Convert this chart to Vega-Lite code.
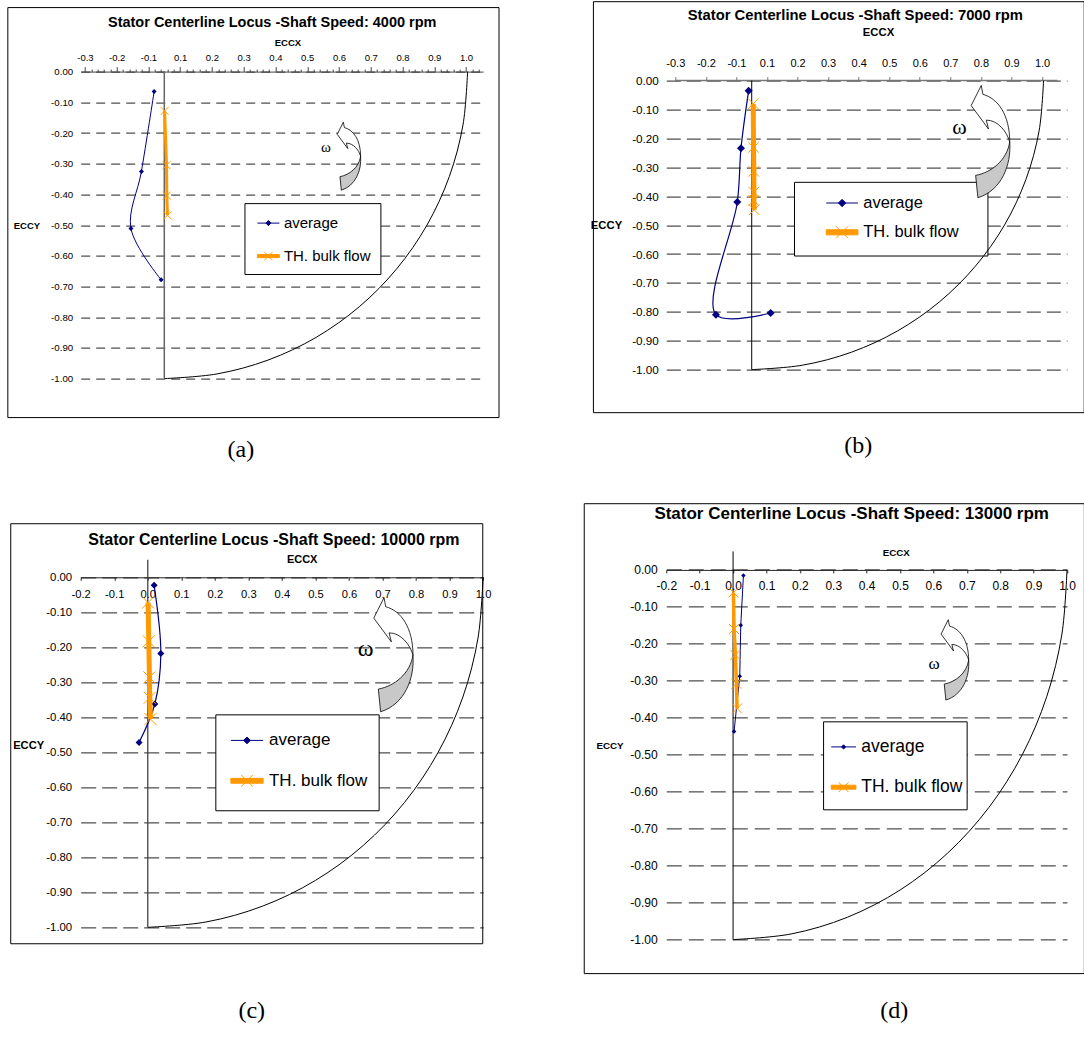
{
  "$schema": "https://vega.github.io/schema/vega-lite/v6.json",
  "background": "white",
  "padding": {"left": 6.7, "top": 0.6, "right": 0, "bottom": 0},
  "columns": 2,
  "spacing": {"row": 172.8, "column": 182.6},
  "bounds": "flush",
  "align": "each",
  "resolve": {"scale": {"x": "independent", "y": "independent", "shape": "independent", "fill": "independent", "stroke": "independent"}},
  "config": {
    "view": {"stroke": null},
    "font": "Liberation Sans",
    "locale": {"number": {"decimal": ".", "thousands": ",", "grouping": [3], "currency": ["$", ""], "minus": "-"}},
    "axis": {"labelColor": "black", "titleColor": "black", "labelFont": "Liberation Sans", "titleFont": "Liberation Sans", "labelOverlap": false, "labelFlush": false, "labelBound": false},
    "legend": {"labelColor": "black", "labelFont": "Liberation Sans"}
  },
  "datasets": {
    "a": [
      {"s": "avg", "i": 1, "x": -0.032, "y": -0.065},
      {"s": "avg", "i": 2, "x": -0.072, "y": -0.325},
      {"s": "avg", "i": 3, "x": -0.105, "y": -0.511},
      {"s": "avg", "i": 4, "x": -0.010, "y": -0.678},
      {"s": "th", "i": 1, "x": 0.001, "y": -0.128},
      {"s": "th", "i": 2, "x": 0.007, "y": -0.305},
      {"s": "th", "i": 3, "x": 0.008, "y": -0.404},
      {"s": "th", "i": 4, "x": 0.010, "y": -0.468},
      {"s": "arc", "i": 1, "x": 0.955, "y": 0},
      {"s": "arc", "i": 2, "x": 0.9405, "y": -0.1736},
      {"s": "arc", "i": 3, "x": 0.8974, "y": -0.342},
      {"s": "arc", "i": 4, "x": 0.8271, "y": -0.5},
      {"s": "arc", "i": 5, "x": 0.7315, "y": -0.6428},
      {"s": "arc", "i": 6, "x": 0.6139, "y": -0.766},
      {"s": "arc", "i": 7, "x": 0.4775, "y": -0.866},
      {"s": "arc", "i": 8, "x": 0.3266, "y": -0.9397},
      {"s": "arc", "i": 9, "x": 0.1658, "y": -0.9848},
      {"s": "arc", "i": 10, "x": 0, "y": -1}
    ],
    "b": [
      {"s": "avg", "i": 1, "x": -0.010, "y": -0.035},
      {"s": "avg", "i": 2, "x": -0.035, "y": -0.234},
      {"s": "avg", "i": 3, "x": -0.047, "y": -0.420},
      {"s": "avg", "i": 4, "x": -0.117, "y": -0.810},
      {"s": "avg", "i": 5, "x": 0.062, "y": -0.804},
      {"s": "th", "i": 1, "x": 0.005, "y": -0.080},
      {"s": "th", "i": 2, "x": 0.006, "y": -0.231},
      {"s": "th", "i": 3, "x": 0.007, "y": -0.314},
      {"s": "th", "i": 4, "x": 0.007, "y": -0.386},
      {"s": "th", "i": 5, "x": 0.007, "y": -0.415},
      {"s": "th", "i": 6, "x": 0.008, "y": -0.447},
      {"s": "arc", "i": 1, "x": 0.955, "y": 0},
      {"s": "arc", "i": 2, "x": 0.9405, "y": -0.1736},
      {"s": "arc", "i": 3, "x": 0.8974, "y": -0.342},
      {"s": "arc", "i": 4, "x": 0.8271, "y": -0.5},
      {"s": "arc", "i": 5, "x": 0.7315, "y": -0.6428},
      {"s": "arc", "i": 6, "x": 0.6139, "y": -0.766},
      {"s": "arc", "i": 7, "x": 0.4775, "y": -0.866},
      {"s": "arc", "i": 8, "x": 0.3266, "y": -0.9397},
      {"s": "arc", "i": 9, "x": 0.1658, "y": -0.9848},
      {"s": "arc", "i": 10, "x": 0, "y": -1}
    ],
    "c": [
      {"s": "avg", "i": 1, "x": 0.019, "y": -0.023},
      {"s": "avg", "i": 2, "x": 0.039, "y": -0.218},
      {"s": "avg", "i": 3, "x": 0.021, "y": -0.362},
      {"s": "avg", "i": 4, "x": -0.026, "y": -0.472},
      {"s": "th", "i": 1, "x": 0.001, "y": -0.072},
      {"s": "th", "i": 2, "x": 0.003, "y": -0.183},
      {"s": "th", "i": 3, "x": 0.005, "y": -0.286},
      {"s": "th", "i": 4, "x": 0.006, "y": -0.344},
      {"s": "th", "i": 5, "x": 0.008, "y": -0.405},
      {"s": "arc", "i": 1, "x": 1, "y": 0},
      {"s": "arc", "i": 2, "x": 0.9848, "y": -0.1736},
      {"s": "arc", "i": 3, "x": 0.9397, "y": -0.342},
      {"s": "arc", "i": 4, "x": 0.866, "y": -0.5},
      {"s": "arc", "i": 5, "x": 0.766, "y": -0.6428},
      {"s": "arc", "i": 6, "x": 0.6428, "y": -0.766},
      {"s": "arc", "i": 7, "x": 0.5, "y": -0.866},
      {"s": "arc", "i": 8, "x": 0.342, "y": -0.9397},
      {"s": "arc", "i": 9, "x": 0.1736, "y": -0.9848},
      {"s": "arc", "i": 10, "x": 0, "y": -1}
    ],
    "d": [
      {"s": "avg", "i": 1, "x": 0.031, "y": -0.015},
      {"s": "avg", "i": 2, "x": 0.023, "y": -0.150},
      {"s": "avg", "i": 3, "x": 0.020, "y": -0.288},
      {"s": "avg", "i": 4, "x": 0.003, "y": -0.437},
      {"s": "th", "i": 1, "x": 0.001, "y": -0.061},
      {"s": "th", "i": 2, "x": 0.003, "y": -0.160},
      {"s": "th", "i": 3, "x": 0.007, "y": -0.230},
      {"s": "th", "i": 4, "x": 0.010, "y": -0.308},
      {"s": "th", "i": 5, "x": 0.012, "y": -0.375},
      {"s": "arc", "i": 1, "x": 1, "y": 0},
      {"s": "arc", "i": 2, "x": 0.9848, "y": -0.1736},
      {"s": "arc", "i": 3, "x": 0.9397, "y": -0.342},
      {"s": "arc", "i": 4, "x": 0.866, "y": -0.5},
      {"s": "arc", "i": 5, "x": 0.766, "y": -0.6428},
      {"s": "arc", "i": 6, "x": 0.6428, "y": -0.766},
      {"s": "arc", "i": 7, "x": 0.5, "y": -0.866},
      {"s": "arc", "i": 8, "x": 0.342, "y": -0.9397},
      {"s": "arc", "i": 9, "x": 0.1736, "y": -0.9848},
      {"s": "arc", "i": 10, "x": 0, "y": -1}
    ]
  },
  "concat": [
    {
      "width": 402.4, "height": 307,
      "data": {"name": "a"},
      "title": {"text": "Stator Centerline Locus -Shaft Speed: 4000 rpm", "frame": "group", "anchor": "middle", "dx": -9.7, "offset": -34, "baseline": "alphabetic", "fontSize": 14.5, "font": "Liberation Sans", "fontWeight": "bold", "color": "black"},
      "encoding": {
        "x": {"field": "x", "type": "quantitative", "scale": {"domain": [-0.2632, 1.0038], "nice": false, "zero": false},
          "axis": {"orient": "top", "values": [-0.25,-0.23,-0.21,-0.19,-0.17,-0.15,-0.13,-0.11,-0.09,-0.07,-0.05,-0.03,-0.01,0.01,0.03,0.05,0.07,0.09,0.11,0.13,0.15,0.17,0.19,0.21,0.23,0.25,0.27,0.29,0.31,0.33,0.35,0.37,0.39,0.41,0.43,0.45,0.47,0.49,0.51,0.53,0.55,0.57,0.59,0.61,0.63,0.65,0.67,0.69,0.71,0.73,0.75,0.77,0.79,0.81,0.83,0.85,0.87,0.89,0.91,0.93,0.95,0.97,0.99], "labelExpr": "abs(round((datum.value+0.25)*10)-(datum.value+0.25)*10)<0.01 ? format(datum.value<0?datum.value-0.05:datum.value+0.05,'.1f') : ''", "labelFontSize": 9.5, "labelPadding": 4, "tickSize": {"condition": {"test": "abs(round((datum.value+0.25)*10)-(datum.value+0.25)*10)<0.01", "value": 5}, "value": 2.5}, "tickColor": "#444", "domainColor": "#444", "grid": false, "title": "ECCX", "titleFontSize": 9.5, "titleFontWeight": "bold", "titlePadding": 5, "titleX": 206.7}},
        "y": {"field": "y", "type": "quantitative", "scale": {"domain": [-1, 0], "nice": false, "zero": false},
          "axis": {"orient": "left", "values": [0,-0.1,-0.2,-0.3,-0.4,-0.5,-0.6,-0.7,-0.8,-0.9,-1], "format": ".2f", "ticks": false, "domain": false, "grid": true, "gridDash": [9, 6], "gridColor": "#222", "gridWidth": 1, "labelFontSize": 9.7, "labelPadding": 8, "title": "ECCY", "titleAngle": 0, "titleAlign": "right", "titleBaseline": "middle", "titleFontSize": 9.5, "titleFontWeight": "bold", "titlePadding": 11}}
      },
      "layer": [
        {"transform": [{"filter": "datum.s == 'arc' && datum.i == 10"}], "mark": {"type": "rect", "filled": false, "stroke": "black", "strokeWidth": 1},
          "encoding": {"x": {"datum": -0.4926, "type": "quantitative", "scale": {"domain": [-0.2632, 1.0038], "nice": false, "zero": false},
              "axis": {"orient": "top", "values": [-0.25,-0.23,-0.21,-0.19,-0.17,-0.15,-0.13,-0.11,-0.09,-0.07,-0.05,-0.03,-0.01,0.01,0.03,0.05,0.07,0.09,0.11,0.13,0.15,0.17,0.19,0.21,0.23,0.25,0.27,0.29,0.31,0.33,0.35,0.37,0.39,0.41,0.43,0.45,0.47,0.49,0.51,0.53,0.55,0.57,0.59,0.61,0.63,0.65,0.67,0.69,0.71,0.73,0.75,0.77,0.79,0.81,0.83,0.85,0.87,0.89,0.91,0.93,0.95,0.97,0.99], "labelExpr": "abs(round((datum.value+0.25)*10)-(datum.value+0.25)*10)<0.01 ? format(datum.value<0?datum.value-0.05:datum.value+0.05,'.1f') : ''", "labelFontSize": 9.5, "labelPadding": 4, "tickSize": {"condition": {"test": "abs(round((datum.value+0.25)*10)-(datum.value+0.25)*10)<0.01", "value": 5}, "value": 2.5}, "tickColor": "#444", "domainColor": "#444", "grid": false, "title": "ECCX", "titleFontSize": 9.5, "titleFontWeight": "bold", "titlePadding": 5, "titleX": 206.7}},
            "x2": {"datum": 1.0539},
            "y": {"datum": 0.2085, "type": "quantitative", "scale": {"domain": [-1, 0], "nice": false, "zero": false},
              "axis": {"orient": "left", "values": [0,-0.1,-0.2,-0.3,-0.4,-0.5,-0.6,-0.7,-0.8,-0.9,-1], "format": ".2f", "ticks": false, "domain": false, "grid": true, "gridDash": [9, 6], "gridColor": "#222", "gridWidth": 1, "labelFontSize": 9.7, "labelPadding": 8, "title": "ECCY", "titleAngle": 0, "titleAlign": "right", "titleBaseline": "middle", "titleFontSize": 9.5, "titleFontWeight": "bold", "titlePadding": 11}},
            "y2": {"datum": -1.127}}},
        {"transform": [{"filter": "datum.s == 'arc' && datum.i == 10"}], "mark": {"type": "rect", "fill": "white", "stroke": "black", "strokeWidth": 1},
          "encoding": {"x": {"datum": 0.254, "type": "quantitative", "scale": {"domain": [-0.2632, 1.0038], "nice": false, "zero": false},
              "axis": {"orient": "top", "values": [-0.25,-0.23,-0.21,-0.19,-0.17,-0.15,-0.13,-0.11,-0.09,-0.07,-0.05,-0.03,-0.01,0.01,0.03,0.05,0.07,0.09,0.11,0.13,0.15,0.17,0.19,0.21,0.23,0.25,0.27,0.29,0.31,0.33,0.35,0.37,0.39,0.41,0.43,0.45,0.47,0.49,0.51,0.53,0.55,0.57,0.59,0.61,0.63,0.65,0.67,0.69,0.71,0.73,0.75,0.77,0.79,0.81,0.83,0.85,0.87,0.89,0.91,0.93,0.95,0.97,0.99], "labelExpr": "abs(round((datum.value+0.25)*10)-(datum.value+0.25)*10)<0.01 ? format(datum.value<0?datum.value-0.05:datum.value+0.05,'.1f') : ''", "labelFontSize": 9.5, "labelPadding": 4, "tickSize": {"condition": {"test": "abs(round((datum.value+0.25)*10)-(datum.value+0.25)*10)<0.01", "value": 5}, "value": 2.5}, "tickColor": "#444", "domainColor": "#444", "grid": false, "title": "ECCX", "titleFontSize": 9.5, "titleFontWeight": "bold", "titlePadding": 5, "titleX": 206.7}},
            "x2": {"datum": 0.682},
            "y": {"datum": -0.430, "type": "quantitative", "scale": {"domain": [-1, 0], "nice": false, "zero": false},
              "axis": {"orient": "left", "values": [0,-0.1,-0.2,-0.3,-0.4,-0.5,-0.6,-0.7,-0.8,-0.9,-1], "format": ".2f", "ticks": false, "domain": false, "grid": true, "gridDash": [9, 6], "gridColor": "#222", "gridWidth": 1, "labelFontSize": 9.7, "labelPadding": 8, "title": "ECCY", "titleAngle": 0, "titleAlign": "right", "titleBaseline": "middle", "titleFontSize": 9.5, "titleFontWeight": "bold", "titlePadding": 11}},
            "y2": {"datum": -0.661}}},
        {"transform": [{"filter": "datum.s == 'arc'"}], "mark": {"type": "line", "color": "black", "strokeWidth": 1, "interpolate": "catmull-rom"}, "encoding": {"order": {"field": "i", "type": "quantitative"}}},
        {"transform": [{"filter": "datum.s == 'arc' && datum.i == 10"}], "mark": {"type": "rule", "color": "#666", "strokeWidth": 1.5},
          "encoding": {"x": {"datum": 0, "type": "quantitative", "scale": {"domain": [-0.2632, 1.0038], "nice": false, "zero": false},
              "axis": {"orient": "top", "values": [-0.25,-0.23,-0.21,-0.19,-0.17,-0.15,-0.13,-0.11,-0.09,-0.07,-0.05,-0.03,-0.01,0.01,0.03,0.05,0.07,0.09,0.11,0.13,0.15,0.17,0.19,0.21,0.23,0.25,0.27,0.29,0.31,0.33,0.35,0.37,0.39,0.41,0.43,0.45,0.47,0.49,0.51,0.53,0.55,0.57,0.59,0.61,0.63,0.65,0.67,0.69,0.71,0.73,0.75,0.77,0.79,0.81,0.83,0.85,0.87,0.89,0.91,0.93,0.95,0.97,0.99], "labelExpr": "abs(round((datum.value+0.25)*10)-(datum.value+0.25)*10)<0.01 ? format(datum.value<0?datum.value-0.05:datum.value+0.05,'.1f') : ''", "labelFontSize": 9.5, "labelPadding": 4, "tickSize": {"condition": {"test": "abs(round((datum.value+0.25)*10)-(datum.value+0.25)*10)<0.01", "value": 5}, "value": 2.5}, "tickColor": "#444", "domainColor": "#444", "grid": false, "title": "ECCX", "titleFontSize": 9.5, "titleFontWeight": "bold", "titlePadding": 5, "titleX": 206.7}},
            "y": {"datum": -1, "type": "quantitative", "scale": {"domain": [-1, 0], "nice": false, "zero": false},
              "axis": {"orient": "left", "values": [0,-0.1,-0.2,-0.3,-0.4,-0.5,-0.6,-0.7,-0.8,-0.9,-1], "format": ".2f", "ticks": false, "domain": false, "grid": true, "gridDash": [9, 6], "gridColor": "#222", "gridWidth": 1, "labelFontSize": 9.7, "labelPadding": 8, "title": "ECCY", "titleAngle": 0, "titleAlign": "right", "titleBaseline": "middle", "titleFontSize": 9.5, "titleFontWeight": "bold", "titlePadding": 11}},
            "y2": {"datum": 0}}},
        {"transform": [{"filter": "datum.s == 'avg'"}], "mark": {"type": "line", "color": "#000080", "strokeWidth": 1, "interpolate": "catmull-rom"}, "encoding": {"order": {"field": "i", "type": "quantitative"}}},
        {"transform": [{"filter": "datum.s == 'avg'"}], "mark": {"type": "point", "shape": "diamond", "filled": true, "color": "#000080", "size": 25, "opacity": 1}},
        {"transform": [{"filter": "datum.s == 'th'"}], "mark": {"type": "line", "color": "#FF9900", "strokeWidth": 3}, "encoding": {"order": {"field": "i", "type": "quantitative"}}},
        {"transform": [{"filter": "datum.s == 'th'"}], "mark": {"type": "point", "shape": "M-1,-1L1,1M-1,1L1,-1", "filled": false, "color": "#FF9900", "strokeWidth": 1, "size": 64, "opacity": 1}},
        {"transform": [{"filter": "datum.s == 'arc' && datum.i == 10"}], "mark": {"type": "point", "shape": "M-0.18,-1.01L-0.15,-0.85C0.12,-0.78,0.33,-0.48,0.33,0C0.28,-0.18,0.12,-0.39,-0.09,-0.39L-0.05,-0.23L-0.36,-0.65Z", "size": 4583, "filled": true, "fill": "white", "stroke": "black", "strokeWidth": 0.8, "opacity": 1},
          "encoding": {"x": {"datum": 0.583, "type": "quantitative", "scale": {"domain": [-0.2632, 1.0038], "nice": false, "zero": false},
              "axis": {"orient": "top", "values": [-0.25,-0.23,-0.21,-0.19,-0.17,-0.15,-0.13,-0.11,-0.09,-0.07,-0.05,-0.03,-0.01,0.01,0.03,0.05,0.07,0.09,0.11,0.13,0.15,0.17,0.19,0.21,0.23,0.25,0.27,0.29,0.31,0.33,0.35,0.37,0.39,0.41,0.43,0.45,0.47,0.49,0.51,0.53,0.55,0.57,0.59,0.61,0.63,0.65,0.67,0.69,0.71,0.73,0.75,0.77,0.79,0.81,0.83,0.85,0.87,0.89,0.91,0.93,0.95,0.97,0.99], "labelExpr": "abs(round((datum.value+0.25)*10)-(datum.value+0.25)*10)<0.01 ? format(datum.value<0?datum.value-0.05:datum.value+0.05,'.1f') : ''", "labelFontSize": 9.5, "labelPadding": 4, "tickSize": {"condition": {"test": "abs(round((datum.value+0.25)*10)-(datum.value+0.25)*10)<0.01", "value": 5}, "value": 2.5}, "tickColor": "#444", "domainColor": "#444", "grid": false, "title": "ECCX", "titleFontSize": 9.5, "titleFontWeight": "bold", "titlePadding": 5, "titleX": 206.7}},
            "y": {"datum": -0.276, "type": "quantitative", "scale": {"domain": [-1, 0], "nice": false, "zero": false},
              "axis": {"orient": "left", "values": [0,-0.1,-0.2,-0.3,-0.4,-0.5,-0.6,-0.7,-0.8,-0.9,-1], "format": ".2f", "ticks": false, "domain": false, "grid": true, "gridDash": [9, 6], "gridColor": "#222", "gridWidth": 1, "labelFontSize": 9.7, "labelPadding": 8, "title": "ECCY", "titleAngle": 0, "titleAlign": "right", "titleBaseline": "middle", "titleFontSize": 9.5, "titleFontWeight": "bold", "titlePadding": 11}}}},
        {"transform": [{"filter": "datum.s == 'arc' && datum.i == 10"}], "mark": {"type": "point", "shape": "M0.33,0C0.36,0.42,0.18,0.87,-0.24,1L-0.28,0.6C0,0.55,0.28,0.33,0.33,0Z", "size": 4583, "filled": true, "fill": "#C8C8C8", "stroke": "black", "strokeWidth": 0.8, "opacity": 1},
          "encoding": {"x": {"datum": 0.583, "type": "quantitative", "scale": {"domain": [-0.2632, 1.0038], "nice": false, "zero": false},
              "axis": {"orient": "top", "values": [-0.25,-0.23,-0.21,-0.19,-0.17,-0.15,-0.13,-0.11,-0.09,-0.07,-0.05,-0.03,-0.01,0.01,0.03,0.05,0.07,0.09,0.11,0.13,0.15,0.17,0.19,0.21,0.23,0.25,0.27,0.29,0.31,0.33,0.35,0.37,0.39,0.41,0.43,0.45,0.47,0.49,0.51,0.53,0.55,0.57,0.59,0.61,0.63,0.65,0.67,0.69,0.71,0.73,0.75,0.77,0.79,0.81,0.83,0.85,0.87,0.89,0.91,0.93,0.95,0.97,0.99], "labelExpr": "abs(round((datum.value+0.25)*10)-(datum.value+0.25)*10)<0.01 ? format(datum.value<0?datum.value-0.05:datum.value+0.05,'.1f') : ''", "labelFontSize": 9.5, "labelPadding": 4, "tickSize": {"condition": {"test": "abs(round((datum.value+0.25)*10)-(datum.value+0.25)*10)<0.01", "value": 5}, "value": 2.5}, "tickColor": "#444", "domainColor": "#444", "grid": false, "title": "ECCX", "titleFontSize": 9.5, "titleFontWeight": "bold", "titlePadding": 5, "titleX": 206.7}},
            "y": {"datum": -0.276, "type": "quantitative", "scale": {"domain": [-1, 0], "nice": false, "zero": false},
              "axis": {"orient": "left", "values": [0,-0.1,-0.2,-0.3,-0.4,-0.5,-0.6,-0.7,-0.8,-0.9,-1], "format": ".2f", "ticks": false, "domain": false, "grid": true, "gridDash": [9, 6], "gridColor": "#222", "gridWidth": 1, "labelFontSize": 9.7, "labelPadding": 8, "title": "ECCY", "titleAngle": 0, "titleAlign": "right", "titleBaseline": "middle", "titleFontSize": 9.5, "titleFontWeight": "bold", "titlePadding": 11}}}},
        {"transform": [{"filter": "datum.s == 'arc' && datum.i == 10"}], "mark": {"type": "text", "text": "ω", "font": "Liberation Serif", "fontSize": 15, "color": "black"},
          "encoding": {"x": {"datum": 0.509, "type": "quantitative", "scale": {"domain": [-0.2632, 1.0038], "nice": false, "zero": false},
              "axis": {"orient": "top", "values": [-0.25,-0.23,-0.21,-0.19,-0.17,-0.15,-0.13,-0.11,-0.09,-0.07,-0.05,-0.03,-0.01,0.01,0.03,0.05,0.07,0.09,0.11,0.13,0.15,0.17,0.19,0.21,0.23,0.25,0.27,0.29,0.31,0.33,0.35,0.37,0.39,0.41,0.43,0.45,0.47,0.49,0.51,0.53,0.55,0.57,0.59,0.61,0.63,0.65,0.67,0.69,0.71,0.73,0.75,0.77,0.79,0.81,0.83,0.85,0.87,0.89,0.91,0.93,0.95,0.97,0.99], "labelExpr": "abs(round((datum.value+0.25)*10)-(datum.value+0.25)*10)<0.01 ? format(datum.value<0?datum.value-0.05:datum.value+0.05,'.1f') : ''", "labelFontSize": 9.5, "labelPadding": 4, "tickSize": {"condition": {"test": "abs(round((datum.value+0.25)*10)-(datum.value+0.25)*10)<0.01", "value": 5}, "value": 2.5}, "tickColor": "#444", "domainColor": "#444", "grid": false, "title": "ECCX", "titleFontSize": 9.5, "titleFontWeight": "bold", "titlePadding": 5, "titleX": 206.7}},
            "y": {"datum": -0.247, "type": "quantitative", "scale": {"domain": [-1, 0], "nice": false, "zero": false},
              "axis": {"orient": "left", "values": [0,-0.1,-0.2,-0.3,-0.4,-0.5,-0.6,-0.7,-0.8,-0.9,-1], "format": ".2f", "ticks": false, "domain": false, "grid": true, "gridDash": [9, 6], "gridColor": "#222", "gridWidth": 1, "labelFontSize": 9.7, "labelPadding": 8, "title": "ECCY", "titleAngle": 0, "titleAlign": "right", "titleBaseline": "middle", "titleFontSize": 9.5, "titleFontWeight": "bold", "titlePadding": 11}}}},
        {"transform": [{"filter": "datum.s == 'arc' && datum.i == 10"}], "mark": {"type": "text", "text": "(a)", "font": "Liberation Serif", "fontSize": 24, "color": "black"},
          "encoding": {"x": {"datum": 0.241, "type": "quantitative", "scale": {"domain": [-0.2632, 1.0038], "nice": false, "zero": false},
              "axis": {"orient": "top", "values": [-0.25,-0.23,-0.21,-0.19,-0.17,-0.15,-0.13,-0.11,-0.09,-0.07,-0.05,-0.03,-0.01,0.01,0.03,0.05,0.07,0.09,0.11,0.13,0.15,0.17,0.19,0.21,0.23,0.25,0.27,0.29,0.31,0.33,0.35,0.37,0.39,0.41,0.43,0.45,0.47,0.49,0.51,0.53,0.55,0.57,0.59,0.61,0.63,0.65,0.67,0.69,0.71,0.73,0.75,0.77,0.79,0.81,0.83,0.85,0.87,0.89,0.91,0.93,0.95,0.97,0.99], "labelExpr": "abs(round((datum.value+0.25)*10)-(datum.value+0.25)*10)<0.01 ? format(datum.value<0?datum.value-0.05:datum.value+0.05,'.1f') : ''", "labelFontSize": 9.5, "labelPadding": 4, "tickSize": {"condition": {"test": "abs(round((datum.value+0.25)*10)-(datum.value+0.25)*10)<0.01", "value": 5}, "value": 2.5}, "tickColor": "#444", "domainColor": "#444", "grid": false, "title": "ECCX", "titleFontSize": 9.5, "titleFontWeight": "bold", "titlePadding": 5, "titleX": 206.7}},
            "y": {"datum": -1.231, "type": "quantitative", "scale": {"domain": [-1, 0], "nice": false, "zero": false},
              "axis": {"orient": "left", "values": [0,-0.1,-0.2,-0.3,-0.4,-0.5,-0.6,-0.7,-0.8,-0.9,-1], "format": ".2f", "ticks": false, "domain": false, "grid": true, "gridDash": [9, 6], "gridColor": "#222", "gridWidth": 1, "labelFontSize": 9.7, "labelPadding": 8, "title": "ECCY", "titleAngle": 0, "titleAlign": "right", "titleBaseline": "middle", "titleFontSize": 9.5, "titleFontWeight": "bold", "titlePadding": 11}}}},
        {"transform": [{"filter": "false"}], "mark": {"type": "point", "filled": true, "opacity": 1, "strokeWidth": 1},
          "encoding": {
            "shape": {"field": "s", "type": "nominal", "scale": {"domain": ["average", "TH. bulk flow"], "range": ["M-1,0L1,0M0,-0.23L0.23,0L0,0.23L-0.23,0Z", "M-1,-0.14L1,-0.14L1,0.14L-1,0.14ZM-0.36,-0.36L0.36,0.36M-0.36,0.36L0.36,-0.36"]},
              "legend": {"orient": "none", "legendX": 176.2, "legendY": 140, "title": null, "padding": 0, "symbolSize": 484, "symbolStrokeWidth": 1, "labelFontSize": 15, "labelOffset": 4, "rowPadding": 13, "symbolOpacity": 1}},
            "fill": {"field": "s", "type": "nominal", "scale": {"domain": ["average", "TH. bulk flow"], "range": ["#000080", "#FF9900"]},
              "legend": {"orient": "none", "legendX": 176.2, "legendY": 140, "title": null, "padding": 0, "symbolSize": 484, "symbolStrokeWidth": 1, "labelFontSize": 15, "labelOffset": 4, "rowPadding": 13, "symbolOpacity": 1}},
            "stroke": {"field": "s", "type": "nominal", "scale": {"domain": ["average", "TH. bulk flow"], "range": ["#000080", "#FF9900"]},
              "legend": {"orient": "none", "legendX": 176.2, "legendY": 140, "title": null, "padding": 0, "symbolSize": 484, "symbolStrokeWidth": 1, "labelFontSize": 15, "labelOffset": 4, "rowPadding": 13, "symbolOpacity": 1}}
          }}
      ]
    },
    {
      "width": 400.7, "height": 307,
      "data": {"name": "b"},
      "title": {"text": "Stator Centerline Locus -Shaft Speed: 7000 rpm", "frame": "group", "anchor": "middle", "dx": -11.35, "offset": -34, "baseline": "alphabetic", "fontSize": 14.8, "font": "Liberation Sans", "fontWeight": "bold", "color": "black"},
      "encoding": {
        "x": {"field": "x", "type": "quantitative", "scale": {"domain": [-0.2795, 1.0317], "nice": false, "zero": false},
          "axis": {"orient": "top", "offset": -9, "domain": false, "values": [-0.25,-0.15,-0.05,0.05,0.15,0.25,0.35,0.45,0.55,0.65,0.75,0.85,0.95], "labelExpr": "format(datum.value<0?datum.value-0.05:datum.value+0.05,'.1f')", "labelFontSize": 11, "labelPadding": 8, "tickSize": 4, "tickColor": "#777", "grid": false, "title": "ECCX", "titleFontSize": 11.3, "titleFontWeight": "bold", "titlePadding": 20, "titleX": 211.7}},
        "y": {"field": "y", "type": "quantitative", "scale": {"domain": [-1.0311, 0.0311], "nice": false, "zero": false},
          "axis": {"orient": "left", "values": [0,-0.1,-0.2,-0.3,-0.4,-0.5,-0.6,-0.7,-0.8,-0.9,-1], "format": ".2f", "ticks": false, "domain": false, "grid": true, "gridDash": [14, 6], "gridColor": "#222", "gridWidth": 1, "labelFontSize": 11.7, "labelPadding": 8, "title": "ECCY", "titleAngle": 0, "titleAlign": "right", "titleBaseline": "middle", "titleFontSize": 11.3, "titleFontWeight": "bold", "titlePadding": 10}}
      },
      "layer": [
        {"transform": [{"filter": "datum.s == 'arc' && datum.i == 10"}], "mark": {"type": "rect", "filled": false, "stroke": "black", "strokeWidth": 1},
          "encoding": {"x": {"datum": -0.518, "type": "quantitative", "scale": {"domain": [-0.2795, 1.0317], "nice": false, "zero": false},
              "axis": {"orient": "top", "offset": -9, "domain": false, "values": [-0.25,-0.15,-0.05,0.05,0.15,0.25,0.35,0.45,0.55,0.65,0.75,0.85,0.95], "labelExpr": "format(datum.value<0?datum.value-0.05:datum.value+0.05,'.1f')", "labelFontSize": 11, "labelPadding": 8, "tickSize": 4, "tickColor": "#777", "grid": false, "title": "ECCX", "titleFontSize": 11.3, "titleFontWeight": "bold", "titlePadding": 20, "titleX": 211.7}},
            "x2": {"datum": 1.088},
            "y": {"datum": 0.273, "type": "quantitative", "scale": {"domain": [-1.0311, 0.0311], "nice": false, "zero": false},
              "axis": {"orient": "left", "values": [0,-0.1,-0.2,-0.3,-0.4,-0.5,-0.6,-0.7,-0.8,-0.9,-1], "format": ".2f", "ticks": false, "domain": false, "grid": true, "gridDash": [14, 6], "gridColor": "#222", "gridWidth": 1, "labelFontSize": 11.7, "labelPadding": 8, "title": "ECCY", "titleAngle": 0, "titleAlign": "right", "titleBaseline": "middle", "titleFontSize": 11.3, "titleFontWeight": "bold", "titlePadding": 10}},
            "y2": {"datum": -1.149}}},
        {"transform": [{"filter": "datum.s == 'arc' && datum.i == 10"}], "mark": {"type": "rect", "fill": "white", "stroke": "black", "strokeWidth": 1},
          "encoding": {"x": {"datum": 0.140, "type": "quantitative", "scale": {"domain": [-0.2795, 1.0317], "nice": false, "zero": false},
              "axis": {"orient": "top", "offset": -9, "domain": false, "values": [-0.25,-0.15,-0.05,0.05,0.15,0.25,0.35,0.45,0.55,0.65,0.75,0.85,0.95], "labelExpr": "format(datum.value<0?datum.value-0.05:datum.value+0.05,'.1f')", "labelFontSize": 11, "labelPadding": 8, "tickSize": 4, "tickColor": "#777", "grid": false, "title": "ECCX", "titleFontSize": 11.3, "titleFontWeight": "bold", "titlePadding": 20, "titleX": 211.7}},
            "x2": {"datum": 0.773},
            "y": {"datum": -0.352, "type": "quantitative", "scale": {"domain": [-1.0311, 0.0311], "nice": false, "zero": false},
              "axis": {"orient": "left", "values": [0,-0.1,-0.2,-0.3,-0.4,-0.5,-0.6,-0.7,-0.8,-0.9,-1], "format": ".2f", "ticks": false, "domain": false, "grid": true, "gridDash": [14, 6], "gridColor": "#222", "gridWidth": 1, "labelFontSize": 11.7, "labelPadding": 8, "title": "ECCY", "titleAngle": 0, "titleAlign": "right", "titleBaseline": "middle", "titleFontSize": 11.3, "titleFontWeight": "bold", "titlePadding": 10}},
            "y2": {"datum": -0.607}}},
        {"transform": [{"filter": "datum.s == 'arc' && datum.i == 10"}], "mark": {"type": "rule", "color": "#777", "strokeWidth": 1.5},
          "encoding": {"x": {"datum": -0.25, "type": "quantitative", "scale": {"domain": [-0.2795, 1.0317], "nice": false, "zero": false},
              "axis": {"orient": "top", "offset": -9, "domain": false, "values": [-0.25,-0.15,-0.05,0.05,0.15,0.25,0.35,0.45,0.55,0.65,0.75,0.85,0.95], "labelExpr": "format(datum.value<0?datum.value-0.05:datum.value+0.05,'.1f')", "labelFontSize": 11, "labelPadding": 8, "tickSize": 4, "tickColor": "#777", "grid": false, "title": "ECCX", "titleFontSize": 11.3, "titleFontWeight": "bold", "titlePadding": 20, "titleX": 211.7}},
            "x2": {"datum": 1.0},
            "y": {"datum": 0, "type": "quantitative", "scale": {"domain": [-1.0311, 0.0311], "nice": false, "zero": false},
              "axis": {"orient": "left", "values": [0,-0.1,-0.2,-0.3,-0.4,-0.5,-0.6,-0.7,-0.8,-0.9,-1], "format": ".2f", "ticks": false, "domain": false, "grid": true, "gridDash": [14, 6], "gridColor": "#222", "gridWidth": 1, "labelFontSize": 11.7, "labelPadding": 8, "title": "ECCY", "titleAngle": 0, "titleAlign": "right", "titleBaseline": "middle", "titleFontSize": 11.3, "titleFontWeight": "bold", "titlePadding": 10}}}},
        {"transform": [{"filter": "datum.s == 'arc'"}], "mark": {"type": "line", "color": "black", "strokeWidth": 1, "interpolate": "catmull-rom"}, "encoding": {"order": {"field": "i", "type": "quantitative"}}},
        {"transform": [{"filter": "datum.s == 'arc' && datum.i == 10"}], "mark": {"type": "rule", "color": "black", "strokeWidth": 1},
          "encoding": {"x": {"datum": 0, "type": "quantitative", "scale": {"domain": [-0.2795, 1.0317], "nice": false, "zero": false},
              "axis": {"orient": "top", "offset": -9, "domain": false, "values": [-0.25,-0.15,-0.05,0.05,0.15,0.25,0.35,0.45,0.55,0.65,0.75,0.85,0.95], "labelExpr": "format(datum.value<0?datum.value-0.05:datum.value+0.05,'.1f')", "labelFontSize": 11, "labelPadding": 8, "tickSize": 4, "tickColor": "#777", "grid": false, "title": "ECCX", "titleFontSize": 11.3, "titleFontWeight": "bold", "titlePadding": 20, "titleX": 211.7}},
            "y": {"datum": -1, "type": "quantitative", "scale": {"domain": [-1.0311, 0.0311], "nice": false, "zero": false},
              "axis": {"orient": "left", "values": [0,-0.1,-0.2,-0.3,-0.4,-0.5,-0.6,-0.7,-0.8,-0.9,-1], "format": ".2f", "ticks": false, "domain": false, "grid": true, "gridDash": [14, 6], "gridColor": "#222", "gridWidth": 1, "labelFontSize": 11.7, "labelPadding": 8, "title": "ECCY", "titleAngle": 0, "titleAlign": "right", "titleBaseline": "middle", "titleFontSize": 11.3, "titleFontWeight": "bold", "titlePadding": 10}},
            "y2": {"datum": 0}}},
        {"transform": [{"filter": "datum.s == 'avg'"}], "mark": {"type": "line", "color": "#000080", "strokeWidth": 1.2, "interpolate": "catmull-rom"}, "encoding": {"order": {"field": "i", "type": "quantitative"}}},
        {"transform": [{"filter": "datum.s == 'avg'"}], "mark": {"type": "point", "shape": "diamond", "filled": true, "color": "#000080", "size": 64, "opacity": 1}},
        {"transform": [{"filter": "datum.s == 'th'"}], "mark": {"type": "line", "color": "#FF9900", "strokeWidth": 5}, "encoding": {"order": {"field": "i", "type": "quantitative"}}},
        {"transform": [{"filter": "datum.s == 'th'"}], "mark": {"type": "point", "shape": "M-1,-1L1,1M-1,1L1,-1", "filled": false, "color": "#FF9900", "strokeWidth": 1, "size": 110, "opacity": 1}},
        {"transform": [{"filter": "datum.s == 'arc' && datum.i == 10"}], "mark": {"type": "point", "shape": "M-0.18,-1.01L-0.15,-0.85C0.12,-0.78,0.33,-0.48,0.33,0C0.28,-0.18,0.12,-0.39,-0.09,-0.39L-0.05,-0.23L-0.36,-0.65Z", "size": 12477, "filled": true, "fill": "white", "stroke": "black", "strokeWidth": 0.8, "opacity": 1},
          "encoding": {"x": {"datum": 0.784, "type": "quantitative", "scale": {"domain": [-0.2795, 1.0317], "nice": false, "zero": false},
              "axis": {"orient": "top", "offset": -9, "domain": false, "values": [-0.25,-0.15,-0.05,0.05,0.15,0.25,0.35,0.45,0.55,0.65,0.75,0.85,0.95], "labelExpr": "format(datum.value<0?datum.value-0.05:datum.value+0.05,'.1f')", "labelFontSize": 11, "labelPadding": 8, "tickSize": 4, "tickColor": "#777", "grid": false, "title": "ECCX", "titleFontSize": 11.3, "titleFontWeight": "bold", "titlePadding": 20, "titleX": 211.7}},
            "y": {"datum": -0.212, "type": "quantitative", "scale": {"domain": [-1.0311, 0.0311], "nice": false, "zero": false},
              "axis": {"orient": "left", "values": [0,-0.1,-0.2,-0.3,-0.4,-0.5,-0.6,-0.7,-0.8,-0.9,-1], "format": ".2f", "ticks": false, "domain": false, "grid": true, "gridDash": [14, 6], "gridColor": "#222", "gridWidth": 1, "labelFontSize": 11.7, "labelPadding": 8, "title": "ECCY", "titleAngle": 0, "titleAlign": "right", "titleBaseline": "middle", "titleFontSize": 11.3, "titleFontWeight": "bold", "titlePadding": 10}}}},
        {"transform": [{"filter": "datum.s == 'arc' && datum.i == 10"}], "mark": {"type": "point", "shape": "M0.33,0C0.36,0.42,0.18,0.87,-0.24,1L-0.28,0.6C0,0.55,0.28,0.33,0.33,0Z", "size": 12477, "filled": true, "fill": "#C8C8C8", "stroke": "black", "strokeWidth": 0.8, "opacity": 1},
          "encoding": {"x": {"datum": 0.784, "type": "quantitative", "scale": {"domain": [-0.2795, 1.0317], "nice": false, "zero": false},
              "axis": {"orient": "top", "offset": -9, "domain": false, "values": [-0.25,-0.15,-0.05,0.05,0.15,0.25,0.35,0.45,0.55,0.65,0.75,0.85,0.95], "labelExpr": "format(datum.value<0?datum.value-0.05:datum.value+0.05,'.1f')", "labelFontSize": 11, "labelPadding": 8, "tickSize": 4, "tickColor": "#777", "grid": false, "title": "ECCX", "titleFontSize": 11.3, "titleFontWeight": "bold", "titlePadding": 20, "titleX": 211.7}},
            "y": {"datum": -0.212, "type": "quantitative", "scale": {"domain": [-1.0311, 0.0311], "nice": false, "zero": false},
              "axis": {"orient": "left", "values": [0,-0.1,-0.2,-0.3,-0.4,-0.5,-0.6,-0.7,-0.8,-0.9,-1], "format": ".2f", "ticks": false, "domain": false, "grid": true, "gridDash": [14, 6], "gridColor": "#222", "gridWidth": 1, "labelFontSize": 11.7, "labelPadding": 8, "title": "ECCY", "titleAngle": 0, "titleAlign": "right", "titleBaseline": "middle", "titleFontSize": 11.3, "titleFontWeight": "bold", "titlePadding": 10}}}},
        {"transform": [{"filter": "datum.s == 'arc' && datum.i == 10"}], "mark": {"type": "text", "text": "ω", "font": "Liberation Serif", "fontSize": 22, "color": "black"},
          "encoding": {"x": {"datum": 0.680, "type": "quantitative", "scale": {"domain": [-0.2795, 1.0317], "nice": false, "zero": false},
              "axis": {"orient": "top", "offset": -9, "domain": false, "values": [-0.25,-0.15,-0.05,0.05,0.15,0.25,0.35,0.45,0.55,0.65,0.75,0.85,0.95], "labelExpr": "format(datum.value<0?datum.value-0.05:datum.value+0.05,'.1f')", "labelFontSize": 11, "labelPadding": 8, "tickSize": 4, "tickColor": "#777", "grid": false, "title": "ECCX", "titleFontSize": 11.3, "titleFontWeight": "bold", "titlePadding": 20, "titleX": 211.7}},
            "y": {"datum": -0.159, "type": "quantitative", "scale": {"domain": [-1.0311, 0.0311], "nice": false, "zero": false},
              "axis": {"orient": "left", "values": [0,-0.1,-0.2,-0.3,-0.4,-0.5,-0.6,-0.7,-0.8,-0.9,-1], "format": ".2f", "ticks": false, "domain": false, "grid": true, "gridDash": [14, 6], "gridColor": "#222", "gridWidth": 1, "labelFontSize": 11.7, "labelPadding": 8, "title": "ECCY", "titleAngle": 0, "titleAlign": "right", "titleBaseline": "middle", "titleFontSize": 11.3, "titleFontWeight": "bold", "titlePadding": 10}}}},
        {"transform": [{"filter": "datum.s == 'arc' && datum.i == 10"}], "mark": {"type": "text", "text": "(b)", "font": "Liberation Serif", "fontSize": 24, "color": "black"},
          "encoding": {"x": {"datum": 0.349, "type": "quantitative", "scale": {"domain": [-0.2795, 1.0317], "nice": false, "zero": false},
              "axis": {"orient": "top", "offset": -9, "domain": false, "values": [-0.25,-0.15,-0.05,0.05,0.15,0.25,0.35,0.45,0.55,0.65,0.75,0.85,0.95], "labelExpr": "format(datum.value<0?datum.value-0.05:datum.value+0.05,'.1f')", "labelFontSize": 11, "labelPadding": 8, "tickSize": 4, "tickColor": "#777", "grid": false, "title": "ECCX", "titleFontSize": 11.3, "titleFontWeight": "bold", "titlePadding": 20, "titleX": 211.7}},
            "y": {"datum": -1.263, "type": "quantitative", "scale": {"domain": [-1.0311, 0.0311], "nice": false, "zero": false},
              "axis": {"orient": "left", "values": [0,-0.1,-0.2,-0.3,-0.4,-0.5,-0.6,-0.7,-0.8,-0.9,-1], "format": ".2f", "ticks": false, "domain": false, "grid": true, "gridDash": [14, 6], "gridColor": "#222", "gridWidth": 1, "labelFontSize": 11.7, "labelPadding": 8, "title": "ECCY", "titleAngle": 0, "titleAlign": "right", "titleBaseline": "middle", "titleFontSize": 11.3, "titleFontWeight": "bold", "titlePadding": 10}}}},
        {"transform": [{"filter": "false"}], "mark": {"type": "point", "filled": true, "opacity": 1, "strokeWidth": 1},
          "encoding": {
            "shape": {"field": "s", "type": "nominal", "scale": {"domain": ["average", "TH. bulk flow"], "range": ["M-1,0L1,0M0,-0.23L0.23,0L0,0.23L-0.23,0Z", "M-1,-0.16L1,-0.16L1,0.16L-1,0.16ZM-0.38,-0.38L0.38,0.38M-0.38,0.38L0.38,-0.38"]},
              "legend": {"orient": "none", "legendX": 159.3, "legendY": 114.9, "title": null, "padding": 0, "symbolSize": 1005, "symbolStrokeWidth": 1, "labelFontSize": 16.5, "labelOffset": 4.7, "rowPadding": 4.3, "symbolOpacity": 1}},
            "fill": {"field": "s", "type": "nominal", "scale": {"domain": ["average", "TH. bulk flow"], "range": ["#000080", "#FF9900"]},
              "legend": {"orient": "none", "legendX": 159.3, "legendY": 114.9, "title": null, "padding": 0, "symbolSize": 1005, "symbolStrokeWidth": 1, "labelFontSize": 16.5, "labelOffset": 4.7, "rowPadding": 4.3, "symbolOpacity": 1}},
            "stroke": {"field": "s", "type": "nominal", "scale": {"domain": ["average", "TH. bulk flow"], "range": ["#000080", "#FF9900"]},
              "legend": {"orient": "none", "legendX": 159.3, "legendY": 114.9, "title": null, "padding": 0, "symbolSize": 1005, "symbolStrokeWidth": 1, "labelFontSize": 16.5, "labelOffset": 4.7, "rowPadding": 4.3, "symbolOpacity": 1}}
          }}
      ]
    },
    {
      "width": 402.4, "height": 388.2,
      "data": {"name": "c"},
      "title": {"text": "Stator Centerline Locus -Shaft Speed: 10000 rpm", "frame": "group", "anchor": "middle", "dx": -8, "offset": -37.3, "baseline": "alphabetic", "fontSize": 16, "font": "Liberation Sans", "fontWeight": "bold", "color": "black"},
      "encoding": {
        "x": {"field": "x", "type": "quantitative", "scale": {"domain": [-0.2, 1.0], "nice": false, "zero": false},
          "axis": {"orient": "bottom", "offset": -362.3, "values": [-0.2,-0.1,0,0.1,0.2,0.3,0.4,0.5,0.6,0.7,0.8,0.9,1.0], "format": ".1f", "labelFontSize": 11.2, "labelPadding": 8, "tickSize": 3, "tickColor": "#222", "domainColor": "#222", "grid": false, "title": "ECCX", "titleFontSize": 11, "titleFontWeight": "bold", "titleY": -17.4, "titleX": 221, "titleBaseline": "middle"}},
        "y": {"field": "y", "type": "quantitative", "scale": {"domain": [-1.0351, 0.074], "nice": false, "zero": false},
          "axis": {"orient": "left", "values": [0,-0.1,-0.2,-0.3,-0.4,-0.5,-0.6,-0.7,-0.8,-0.9,-1], "format": ".2f", "ticks": false, "domain": false, "grid": true, "gridDash": [15, 6], "gridColor": "#222", "gridWidth": 1, "labelFontSize": 11.4, "labelPadding": 9, "title": "ECCY", "titleAngle": 0, "titleAlign": "right", "titleBaseline": "middle", "titleFontSize": 11.2, "titleFontWeight": "bold", "titlePadding": 2}}
      },
      "layer": [
        {"transform": [{"filter": "datum.s == 'arc' && datum.i == 10"}], "mark": {"type": "rect", "filled": false, "stroke": "black", "strokeWidth": 1},
          "encoding": {"x": {"datum": -0.4086, "type": "quantitative", "scale": {"domain": [-0.2, 1.0], "nice": false, "zero": false},
              "axis": {"orient": "bottom", "offset": -362.3, "values": [-0.2,-0.1,0,0.1,0.2,0.3,0.4,0.5,0.6,0.7,0.8,0.9,1.0], "format": ".1f", "labelFontSize": 11.2, "labelPadding": 8, "tickSize": 3, "tickColor": "#222", "domainColor": "#222", "grid": false, "title": "ECCX", "titleFontSize": 11, "titleFontWeight": "bold", "titleY": -17.4, "titleX": 221, "titleBaseline": "middle"}},
            "x2": {"datum": 0.999},
            "y": {"datum": 0.153, "type": "quantitative", "scale": {"domain": [-1.0351, 0.074], "nice": false, "zero": false},
              "axis": {"orient": "left", "values": [0,-0.1,-0.2,-0.3,-0.4,-0.5,-0.6,-0.7,-0.8,-0.9,-1], "format": ".2f", "ticks": false, "domain": false, "grid": true, "gridDash": [15, 6], "gridColor": "#222", "gridWidth": 1, "labelFontSize": 11.4, "labelPadding": 9, "title": "ECCY", "titleAngle": 0, "titleAlign": "right", "titleBaseline": "middle", "titleFontSize": 11.2, "titleFontWeight": "bold", "titlePadding": 2}},
            "y2": {"datum": -1.047}}},
        {"transform": [{"filter": "datum.s == 'arc' && datum.i == 10"}], "mark": {"type": "rect", "fill": "white", "stroke": "black", "strokeWidth": 1},
          "encoding": {"x": {"datum": 0.203, "type": "quantitative", "scale": {"domain": [-0.2, 1.0], "nice": false, "zero": false},
              "axis": {"orient": "bottom", "offset": -362.3, "values": [-0.2,-0.1,0,0.1,0.2,0.3,0.4,0.5,0.6,0.7,0.8,0.9,1.0], "format": ".1f", "labelFontSize": 11.2, "labelPadding": 8, "tickSize": 3, "tickColor": "#222", "domainColor": "#222", "grid": false, "title": "ECCX", "titleFontSize": 11, "titleFontWeight": "bold", "titleY": -17.4, "titleX": 221, "titleBaseline": "middle"}},
            "x2": {"datum": 0.690},
            "y": {"datum": -0.393, "type": "quantitative", "scale": {"domain": [-1.0351, 0.074], "nice": false, "zero": false},
              "axis": {"orient": "left", "values": [0,-0.1,-0.2,-0.3,-0.4,-0.5,-0.6,-0.7,-0.8,-0.9,-1], "format": ".2f", "ticks": false, "domain": false, "grid": true, "gridDash": [15, 6], "gridColor": "#222", "gridWidth": 1, "labelFontSize": 11.4, "labelPadding": 9, "title": "ECCY", "titleAngle": 0, "titleAlign": "right", "titleBaseline": "middle", "titleFontSize": 11.2, "titleFontWeight": "bold", "titlePadding": 2}},
            "y2": {"datum": -0.667}}},
        {"transform": [{"filter": "datum.s == 'arc'"}], "mark": {"type": "line", "color": "black", "strokeWidth": 1, "interpolate": "catmull-rom"}, "encoding": {"order": {"field": "i", "type": "quantitative"}}},
        {"transform": [{"filter": "datum.s == 'arc' && datum.i == 10"}], "mark": {"type": "rule", "color": "#444", "strokeWidth": 1.3},
          "encoding": {"x": {"datum": 0, "type": "quantitative", "scale": {"domain": [-0.2, 1.0], "nice": false, "zero": false},
              "axis": {"orient": "bottom", "offset": -362.3, "values": [-0.2,-0.1,0,0.1,0.2,0.3,0.4,0.5,0.6,0.7,0.8,0.9,1.0], "format": ".1f", "labelFontSize": 11.2, "labelPadding": 8, "tickSize": 3, "tickColor": "#222", "domainColor": "#222", "grid": false, "title": "ECCX", "titleFontSize": 11, "titleFontWeight": "bold", "titleY": -17.4, "titleX": 221, "titleBaseline": "middle"}},
            "y": {"datum": -1, "type": "quantitative", "scale": {"domain": [-1.0351, 0.074], "nice": false, "zero": false},
              "axis": {"orient": "left", "values": [0,-0.1,-0.2,-0.3,-0.4,-0.5,-0.6,-0.7,-0.8,-0.9,-1], "format": ".2f", "ticks": false, "domain": false, "grid": true, "gridDash": [15, 6], "gridColor": "#222", "gridWidth": 1, "labelFontSize": 11.4, "labelPadding": 9, "title": "ECCY", "titleAngle": 0, "titleAlign": "right", "titleBaseline": "middle", "titleFontSize": 11.2, "titleFontWeight": "bold", "titlePadding": 2}},
            "y2": {"datum": 0.05}}},
        {"transform": [{"filter": "datum.s == 'avg'"}], "mark": {"type": "line", "color": "#000080", "strokeWidth": 1.2, "interpolate": "catmull-rom"}, "encoding": {"order": {"field": "i", "type": "quantitative"}}},
        {"transform": [{"filter": "datum.s == 'avg'"}], "mark": {"type": "point", "shape": "diamond", "filled": true, "color": "#000080", "size": 49, "opacity": 1}},
        {"transform": [{"filter": "datum.s == 'th'"}], "mark": {"type": "line", "color": "#FF9900", "strokeWidth": 5}, "encoding": {"order": {"field": "i", "type": "quantitative"}}},
        {"transform": [{"filter": "datum.s == 'th'"}], "mark": {"type": "point", "shape": "M-1,-1L1,1M-1,1L1,-1", "filled": false, "color": "#FF9900", "strokeWidth": 1, "size": 144, "opacity": 1}},
        {"transform": [{"filter": "datum.s == 'arc' && datum.i == 10"}], "mark": {"type": "point", "shape": "M-0.18,-1.01L-0.15,-0.85C0.12,-0.78,0.33,-0.48,0.33,0C0.28,-0.18,0.12,-0.39,-0.09,-0.39L-0.05,-0.23L-0.36,-0.65Z", "size": 12900, "filled": true, "fill": "white", "stroke": "black", "strokeWidth": 0.8, "opacity": 1},
          "encoding": {"x": {"datum": 0.735, "type": "quantitative", "scale": {"domain": [-0.2, 1.0], "nice": false, "zero": false},
              "axis": {"orient": "bottom", "offset": -362.3, "values": [-0.2,-0.1,0,0.1,0.2,0.3,0.4,0.5,0.6,0.7,0.8,0.9,1.0], "format": ".1f", "labelFontSize": 11.2, "labelPadding": 8, "tickSize": 3, "tickColor": "#222", "domainColor": "#222", "grid": false, "title": "ECCX", "titleFontSize": 11, "titleFontWeight": "bold", "titleY": -17.4, "titleX": 221, "titleBaseline": "middle"}},
            "y": {"datum": -0.222, "type": "quantitative", "scale": {"domain": [-1.0351, 0.074], "nice": false, "zero": false},
              "axis": {"orient": "left", "values": [0,-0.1,-0.2,-0.3,-0.4,-0.5,-0.6,-0.7,-0.8,-0.9,-1], "format": ".2f", "ticks": false, "domain": false, "grid": true, "gridDash": [15, 6], "gridColor": "#222", "gridWidth": 1, "labelFontSize": 11.4, "labelPadding": 9, "title": "ECCY", "titleAngle": 0, "titleAlign": "right", "titleBaseline": "middle", "titleFontSize": 11.2, "titleFontWeight": "bold", "titlePadding": 2}}}},
        {"transform": [{"filter": "datum.s == 'arc' && datum.i == 10"}], "mark": {"type": "point", "shape": "M0.33,0C0.36,0.42,0.18,0.87,-0.24,1L-0.28,0.6C0,0.55,0.28,0.33,0.33,0Z", "size": 12900, "filled": true, "fill": "#C8C8C8", "stroke": "black", "strokeWidth": 0.8, "opacity": 1},
          "encoding": {"x": {"datum": 0.735, "type": "quantitative", "scale": {"domain": [-0.2, 1.0], "nice": false, "zero": false},
              "axis": {"orient": "bottom", "offset": -362.3, "values": [-0.2,-0.1,0,0.1,0.2,0.3,0.4,0.5,0.6,0.7,0.8,0.9,1.0], "format": ".1f", "labelFontSize": 11.2, "labelPadding": 8, "tickSize": 3, "tickColor": "#222", "domainColor": "#222", "grid": false, "title": "ECCX", "titleFontSize": 11, "titleFontWeight": "bold", "titleY": -17.4, "titleX": 221, "titleBaseline": "middle"}},
            "y": {"datum": -0.222, "type": "quantitative", "scale": {"domain": [-1.0351, 0.074], "nice": false, "zero": false},
              "axis": {"orient": "left", "values": [0,-0.1,-0.2,-0.3,-0.4,-0.5,-0.6,-0.7,-0.8,-0.9,-1], "format": ".2f", "ticks": false, "domain": false, "grid": true, "gridDash": [15, 6], "gridColor": "#222", "gridWidth": 1, "labelFontSize": 11.4, "labelPadding": 9, "title": "ECCY", "titleAngle": 0, "titleAlign": "right", "titleBaseline": "middle", "titleFontSize": 11.2, "titleFontWeight": "bold", "titlePadding": 2}}}},
        {"transform": [{"filter": "datum.s == 'arc' && datum.i == 10"}], "mark": {"type": "text", "text": "ω", "font": "Liberation Serif", "fontSize": 24, "color": "black"},
          "encoding": {"x": {"datum": 0.650, "type": "quantitative", "scale": {"domain": [-0.2, 1.0], "nice": false, "zero": false},
              "axis": {"orient": "bottom", "offset": -362.3, "values": [-0.2,-0.1,0,0.1,0.2,0.3,0.4,0.5,0.6,0.7,0.8,0.9,1.0], "format": ".1f", "labelFontSize": 11.2, "labelPadding": 8, "tickSize": 3, "tickColor": "#222", "domainColor": "#222", "grid": false, "title": "ECCX", "titleFontSize": 11, "titleFontWeight": "bold", "titleY": -17.4, "titleX": 221, "titleBaseline": "middle"}},
            "y": {"datum": -0.205, "type": "quantitative", "scale": {"domain": [-1.0351, 0.074], "nice": false, "zero": false},
              "axis": {"orient": "left", "values": [0,-0.1,-0.2,-0.3,-0.4,-0.5,-0.6,-0.7,-0.8,-0.9,-1], "format": ".2f", "ticks": false, "domain": false, "grid": true, "gridDash": [15, 6], "gridColor": "#222", "gridWidth": 1, "labelFontSize": 11.4, "labelPadding": 9, "title": "ECCY", "titleAngle": 0, "titleAlign": "right", "titleBaseline": "middle", "titleFontSize": 11.2, "titleFontWeight": "bold", "titlePadding": 2}}}},
        {"transform": [{"filter": "datum.s == 'arc' && datum.i == 10"}], "mark": {"type": "text", "text": "(c)", "font": "Liberation Serif", "fontSize": 24, "color": "black"},
          "encoding": {"x": {"datum": 0.310, "type": "quantitative", "scale": {"domain": [-0.2, 1.0], "nice": false, "zero": false},
              "axis": {"orient": "bottom", "offset": -362.3, "values": [-0.2,-0.1,0,0.1,0.2,0.3,0.4,0.5,0.6,0.7,0.8,0.9,1.0], "format": ".1f", "labelFontSize": 11.2, "labelPadding": 8, "tickSize": 3, "tickColor": "#222", "domainColor": "#222", "grid": false, "title": "ECCX", "titleFontSize": 11, "titleFontWeight": "bold", "titleY": -17.4, "titleX": 221, "titleBaseline": "middle"}},
            "y": {"datum": -1.238, "type": "quantitative", "scale": {"domain": [-1.0351, 0.074], "nice": false, "zero": false},
              "axis": {"orient": "left", "values": [0,-0.1,-0.2,-0.3,-0.4,-0.5,-0.6,-0.7,-0.8,-0.9,-1], "format": ".2f", "ticks": false, "domain": false, "grid": true, "gridDash": [15, 6], "gridColor": "#222", "gridWidth": 1, "labelFontSize": 11.4, "labelPadding": 9, "title": "ECCY", "titleAngle": 0, "titleAlign": "right", "titleBaseline": "middle", "titleFontSize": 11.2, "titleFontWeight": "bold", "titlePadding": 2}}}},
        {"transform": [{"filter": "false"}], "mark": {"type": "point", "filled": true, "opacity": 1, "strokeWidth": 1},
          "encoding": {
            "shape": {"field": "s", "type": "nominal", "scale": {"domain": ["average", "TH. bulk flow"], "range": ["M-1,0L1,0M0,-0.21L0.21,0L0,0.21L-0.21,0Z", "M-1,-0.15L1,-0.15L1,0.15L-1,0.15ZM-0.36,-0.36L0.36,0.36M-0.36,0.36L0.36,-0.36"]},
              "legend": {"orient": "none", "legendX": 149.3, "legendY": 172, "title": null, "padding": 0, "symbolSize": 1043, "symbolStrokeWidth": 1, "labelFontSize": 17, "labelOffset": 5, "rowPadding": 15.4, "symbolOpacity": 1}},
            "fill": {"field": "s", "type": "nominal", "scale": {"domain": ["average", "TH. bulk flow"], "range": ["#000080", "#FF9900"]},
              "legend": {"orient": "none", "legendX": 149.3, "legendY": 172, "title": null, "padding": 0, "symbolSize": 1043, "symbolStrokeWidth": 1, "labelFontSize": 17, "labelOffset": 5, "rowPadding": 15.4, "symbolOpacity": 1}},
            "stroke": {"field": "s", "type": "nominal", "scale": {"domain": ["average", "TH. bulk flow"], "range": ["#000080", "#FF9900"]},
              "legend": {"orient": "none", "legendX": 149.3, "legendY": 172, "title": null, "padding": 0, "symbolSize": 1043, "symbolStrokeWidth": 1, "labelFontSize": 17, "labelOffset": 5, "rowPadding": 15.4, "symbolOpacity": 1}}
          }}
      ]
    },
    {
      "width": 400.7, "height": 388.2,
      "data": {"name": "d"},
      "title": {"text": "Stator Centerline Locus -Shaft Speed: 13000 rpm", "frame": "group", "anchor": "middle", "dx": -15, "offset": -33, "baseline": "alphabetic", "fontSize": 17, "font": "Liberation Sans", "fontWeight": "bold", "color": "black"},
      "encoding": {
        "x": {"field": "x", "type": "quantitative", "scale": {"domain": [-0.2, 1.0], "nice": false, "zero": false},
          "axis": {"orient": "bottom", "offset": -369.7, "values": [-0.2,-0.1,0,0.1,0.2,0.3,0.4,0.5,0.6,0.7,0.8,0.9,1.0], "format": ".1f", "labelFontSize": 12, "labelPadding": 8, "tickSize": 3, "tickColor": "#222", "domainColor": "#222", "grid": false, "title": "ECCX", "titleFontSize": 9.8, "titleFontWeight": "bold", "titleY": -17.6, "titleX": 229.5, "titleBaseline": "middle"}},
        "y": {"field": "y", "type": "quantitative", "scale": {"domain": [-1, 0.05], "nice": false, "zero": false},
          "axis": {"orient": "left", "values": [0,-0.1,-0.2,-0.3,-0.4,-0.5,-0.6,-0.7,-0.8,-0.9,-1], "format": ".2f", "ticks": false, "domain": false, "grid": true, "gridDash": [15, 7], "gridColor": "#222", "gridWidth": 1, "labelFontSize": 12.1, "labelPadding": 9, "title": "ECCY", "titleAngle": 0, "titleAlign": "right", "titleBaseline": "middle", "titleFontSize": 9.8, "titleFontWeight": "bold", "titlePadding": 6.6}}
      },
      "layer": [
        {"transform": [{"filter": "datum.s == 'arc' && datum.i == 10"}], "mark": {"type": "rect", "filled": false, "stroke": "black", "strokeWidth": 1},
          "encoding": {"x": {"datum": -0.4457, "type": "quantitative", "scale": {"domain": [-0.2, 1.0], "nice": false, "zero": false},
              "axis": {"orient": "bottom", "offset": -369.7, "values": [-0.2,-0.1,0,0.1,0.2,0.3,0.4,0.5,0.6,0.7,0.8,0.9,1.0], "format": ".1f", "labelFontSize": 12, "labelPadding": 8, "tickSize": 3, "tickColor": "#222", "domainColor": "#222", "grid": false, "title": "ECCX", "titleFontSize": 9.8, "titleFontWeight": "bold", "titleY": -17.6, "titleX": 229.5, "titleBaseline": "middle"}},
            "x2": {"datum": 1.052},
            "y": {"datum": 0.179, "type": "quantitative", "scale": {"domain": [-1, 0.05], "nice": false, "zero": false},
              "axis": {"orient": "left", "values": [0,-0.1,-0.2,-0.3,-0.4,-0.5,-0.6,-0.7,-0.8,-0.9,-1], "format": ".2f", "ticks": false, "domain": false, "grid": true, "gridDash": [15, 7], "gridColor": "#222", "gridWidth": 1, "labelFontSize": 12.1, "labelPadding": 9, "title": "ECCY", "titleAngle": 0, "titleAlign": "right", "titleBaseline": "middle", "titleFontSize": 9.8, "titleFontWeight": "bold", "titlePadding": 6.6}},
            "y2": {"datum": -1.092}}},
        {"transform": [{"filter": "datum.s == 'arc' && datum.i == 10"}], "mark": {"type": "rect", "fill": "white", "stroke": "black", "strokeWidth": 1},
          "encoding": {"x": {"datum": 0.271, "type": "quantitative", "scale": {"domain": [-0.2, 1.0], "nice": false, "zero": false},
              "axis": {"orient": "bottom", "offset": -369.7, "values": [-0.2,-0.1,0,0.1,0.2,0.3,0.4,0.5,0.6,0.7,0.8,0.9,1.0], "format": ".1f", "labelFontSize": 12, "labelPadding": 8, "tickSize": 3, "tickColor": "#222", "domainColor": "#222", "grid": false, "title": "ECCX", "titleFontSize": 9.8, "titleFontWeight": "bold", "titleY": -17.6, "titleX": 229.5, "titleBaseline": "middle"}},
            "x2": {"datum": 0.701},
            "y": {"datum": -0.411, "type": "quantitative", "scale": {"domain": [-1, 0.05], "nice": false, "zero": false},
              "axis": {"orient": "left", "values": [0,-0.1,-0.2,-0.3,-0.4,-0.5,-0.6,-0.7,-0.8,-0.9,-1], "format": ".2f", "ticks": false, "domain": false, "grid": true, "gridDash": [15, 7], "gridColor": "#222", "gridWidth": 1, "labelFontSize": 12.1, "labelPadding": 9, "title": "ECCY", "titleAngle": 0, "titleAlign": "right", "titleBaseline": "middle", "titleFontSize": 9.8, "titleFontWeight": "bold", "titlePadding": 6.6}},
            "y2": {"datum": -0.649}}},
        {"transform": [{"filter": "datum.s == 'arc'"}], "mark": {"type": "line", "color": "black", "strokeWidth": 1, "interpolate": "catmull-rom"}, "encoding": {"order": {"field": "i", "type": "quantitative"}}},
        {"transform": [{"filter": "datum.s == 'arc' && datum.i == 10"}], "mark": {"type": "rule", "color": "black", "strokeWidth": 1},
          "encoding": {"x": {"datum": 0, "type": "quantitative", "scale": {"domain": [-0.2, 1.0], "nice": false, "zero": false},
              "axis": {"orient": "bottom", "offset": -369.7, "values": [-0.2,-0.1,0,0.1,0.2,0.3,0.4,0.5,0.6,0.7,0.8,0.9,1.0], "format": ".1f", "labelFontSize": 12, "labelPadding": 8, "tickSize": 3, "tickColor": "#222", "domainColor": "#222", "grid": false, "title": "ECCX", "titleFontSize": 9.8, "titleFontWeight": "bold", "titleY": -17.6, "titleX": 229.5, "titleBaseline": "middle"}},
            "y": {"datum": -1, "type": "quantitative", "scale": {"domain": [-1, 0.05], "nice": false, "zero": false},
              "axis": {"orient": "left", "values": [0,-0.1,-0.2,-0.3,-0.4,-0.5,-0.6,-0.7,-0.8,-0.9,-1], "format": ".2f", "ticks": false, "domain": false, "grid": true, "gridDash": [15, 7], "gridColor": "#222", "gridWidth": 1, "labelFontSize": 12.1, "labelPadding": 9, "title": "ECCY", "titleAngle": 0, "titleAlign": "right", "titleBaseline": "middle", "titleFontSize": 9.8, "titleFontWeight": "bold", "titlePadding": 6.6}},
            "y2": {"datum": 0.05}}},
        {"transform": [{"filter": "datum.s == 'avg'"}], "mark": {"type": "line", "color": "#000080", "strokeWidth": 1}, "encoding": {"order": {"field": "i", "type": "quantitative"}}},
        {"transform": [{"filter": "datum.s == 'avg'"}], "mark": {"type": "point", "shape": "diamond", "filled": true, "color": "#000080", "size": 20, "opacity": 1}},
        {"transform": [{"filter": "datum.s == 'th'"}], "mark": {"type": "line", "color": "#FF9900", "strokeWidth": 3.5}, "encoding": {"order": {"field": "i", "type": "quantitative"}}},
        {"transform": [{"filter": "datum.s == 'th'"}], "mark": {"type": "point", "shape": "M-1,-1L1,1M-1,1L1,-1", "filled": false, "color": "#FF9900", "strokeWidth": 1, "size": 100, "opacity": 1}},
        {"transform": [{"filter": "datum.s == 'arc' && datum.i == 10"}], "mark": {"type": "point", "shape": "M-0.18,-1.01L-0.15,-0.85C0.12,-0.78,0.33,-0.48,0.33,0C0.28,-0.18,0.12,-0.39,-0.09,-0.39L-0.05,-0.23L-0.36,-0.65Z", "size": 6400, "filled": true, "fill": "white", "stroke": "black", "strokeWidth": 0.8, "opacity": 1},
          "encoding": {"x": {"datum": 0.666, "type": "quantitative", "scale": {"domain": [-0.2, 1.0], "nice": false, "zero": false},
              "axis": {"orient": "bottom", "offset": -369.7, "values": [-0.2,-0.1,0,0.1,0.2,0.3,0.4,0.5,0.6,0.7,0.8,0.9,1.0], "format": ".1f", "labelFontSize": 12, "labelPadding": 8, "tickSize": 3, "tickColor": "#222", "domainColor": "#222", "grid": false, "title": "ECCX", "titleFontSize": 9.8, "titleFontWeight": "bold", "titleY": -17.6, "titleX": 229.5, "titleBaseline": "middle"}},
            "y": {"datum": -0.244, "type": "quantitative", "scale": {"domain": [-1, 0.05], "nice": false, "zero": false},
              "axis": {"orient": "left", "values": [0,-0.1,-0.2,-0.3,-0.4,-0.5,-0.6,-0.7,-0.8,-0.9,-1], "format": ".2f", "ticks": false, "domain": false, "grid": true, "gridDash": [15, 7], "gridColor": "#222", "gridWidth": 1, "labelFontSize": 12.1, "labelPadding": 9, "title": "ECCY", "titleAngle": 0, "titleAlign": "right", "titleBaseline": "middle", "titleFontSize": 9.8, "titleFontWeight": "bold", "titlePadding": 6.6}}}},
        {"transform": [{"filter": "datum.s == 'arc' && datum.i == 10"}], "mark": {"type": "point", "shape": "M0.33,0C0.36,0.42,0.18,0.87,-0.24,1L-0.28,0.6C0,0.55,0.28,0.33,0.33,0Z", "size": 6400, "filled": true, "fill": "#C8C8C8", "stroke": "black", "strokeWidth": 0.8, "opacity": 1},
          "encoding": {"x": {"datum": 0.666, "type": "quantitative", "scale": {"domain": [-0.2, 1.0], "nice": false, "zero": false},
              "axis": {"orient": "bottom", "offset": -369.7, "values": [-0.2,-0.1,0,0.1,0.2,0.3,0.4,0.5,0.6,0.7,0.8,0.9,1.0], "format": ".1f", "labelFontSize": 12, "labelPadding": 8, "tickSize": 3, "tickColor": "#222", "domainColor": "#222", "grid": false, "title": "ECCX", "titleFontSize": 9.8, "titleFontWeight": "bold", "titleY": -17.6, "titleX": 229.5, "titleBaseline": "middle"}},
            "y": {"datum": -0.244, "type": "quantitative", "scale": {"domain": [-1, 0.05], "nice": false, "zero": false},
              "axis": {"orient": "left", "values": [0,-0.1,-0.2,-0.3,-0.4,-0.5,-0.6,-0.7,-0.8,-0.9,-1], "format": ".2f", "ticks": false, "domain": false, "grid": true, "gridDash": [15, 7], "gridColor": "#222", "gridWidth": 1, "labelFontSize": 12.1, "labelPadding": 9, "title": "ECCY", "titleAngle": 0, "titleAlign": "right", "titleBaseline": "middle", "titleFontSize": 9.8, "titleFontWeight": "bold", "titlePadding": 6.6}}}},
        {"transform": [{"filter": "datum.s == 'arc' && datum.i == 10"}], "mark": {"type": "text", "text": "ω", "font": "Liberation Serif", "fontSize": 17, "color": "black"},
          "encoding": {"x": {"datum": 0.602, "type": "quantitative", "scale": {"domain": [-0.2, 1.0], "nice": false, "zero": false},
              "axis": {"orient": "bottom", "offset": -369.7, "values": [-0.2,-0.1,0,0.1,0.2,0.3,0.4,0.5,0.6,0.7,0.8,0.9,1.0], "format": ".1f", "labelFontSize": 12, "labelPadding": 8, "tickSize": 3, "tickColor": "#222", "domainColor": "#222", "grid": false, "title": "ECCX", "titleFontSize": 9.8, "titleFontWeight": "bold", "titleY": -17.6, "titleX": 229.5, "titleBaseline": "middle"}},
            "y": {"datum": -0.254, "type": "quantitative", "scale": {"domain": [-1, 0.05], "nice": false, "zero": false},
              "axis": {"orient": "left", "values": [0,-0.1,-0.2,-0.3,-0.4,-0.5,-0.6,-0.7,-0.8,-0.9,-1], "format": ".2f", "ticks": false, "domain": false, "grid": true, "gridDash": [15, 7], "gridColor": "#222", "gridWidth": 1, "labelFontSize": 12.1, "labelPadding": 9, "title": "ECCY", "titleAngle": 0, "titleAlign": "right", "titleBaseline": "middle", "titleFontSize": 9.8, "titleFontWeight": "bold", "titlePadding": 6.6}}}},
        {"transform": [{"filter": "datum.s == 'arc' && datum.i == 10"}], "mark": {"type": "text", "text": "(d)", "font": "Liberation Serif", "fontSize": 24, "color": "black"},
          "encoding": {"x": {"datum": 0.483, "type": "quantitative", "scale": {"domain": [-0.2, 1.0], "nice": false, "zero": false},
              "axis": {"orient": "bottom", "offset": -369.7, "values": [-0.2,-0.1,0,0.1,0.2,0.3,0.4,0.5,0.6,0.7,0.8,0.9,1.0], "format": ".1f", "labelFontSize": 12, "labelPadding": 8, "tickSize": 3, "tickColor": "#222", "domainColor": "#222", "grid": false, "title": "ECCX", "titleFontSize": 9.8, "titleFontWeight": "bold", "titleY": -17.6, "titleX": 229.5, "titleBaseline": "middle"}},
            "y": {"datum": -1.192, "type": "quantitative", "scale": {"domain": [-1, 0.05], "nice": false, "zero": false},
              "axis": {"orient": "left", "values": [0,-0.1,-0.2,-0.3,-0.4,-0.5,-0.6,-0.7,-0.8,-0.9,-1], "format": ".2f", "ticks": false, "domain": false, "grid": true, "gridDash": [15, 7], "gridColor": "#222", "gridWidth": 1, "labelFontSize": 12.1, "labelPadding": 9, "title": "ECCY", "titleAngle": 0, "titleAlign": "right", "titleBaseline": "middle", "titleFontSize": 9.8, "titleFontWeight": "bold", "titlePadding": 6.6}}}},
        {"transform": [{"filter": "false"}], "mark": {"type": "point", "filled": true, "opacity": 1, "strokeWidth": 1},
          "encoding": {
            "shape": {"field": "s", "type": "nominal", "scale": {"domain": ["average", "TH. bulk flow"], "range": ["M-1,0L1,0M0,-0.17L0.17,0L0,0.17L-0.17,0Z", "M-1,-0.16L1,-0.16L1,0.16L-1,0.16ZM-0.4,-0.4L0.4,0.4M-0.4,0.4L0.4,-0.4"]},
              "legend": {"orient": "none", "legendX": 164.3, "legendY": 182.5, "title": null, "padding": 0, "symbolSize": 610, "symbolStrokeWidth": 1, "labelFontSize": 17.5, "labelOffset": 4.7, "rowPadding": 18.3, "symbolOpacity": 1}},
            "fill": {"field": "s", "type": "nominal", "scale": {"domain": ["average", "TH. bulk flow"], "range": ["#000080", "#FF9900"]},
              "legend": {"orient": "none", "legendX": 164.3, "legendY": 182.5, "title": null, "padding": 0, "symbolSize": 610, "symbolStrokeWidth": 1, "labelFontSize": 17.5, "labelOffset": 4.7, "rowPadding": 18.3, "symbolOpacity": 1}},
            "stroke": {"field": "s", "type": "nominal", "scale": {"domain": ["average", "TH. bulk flow"], "range": ["#000080", "#FF9900"]},
              "legend": {"orient": "none", "legendX": 164.3, "legendY": 182.5, "title": null, "padding": 0, "symbolSize": 610, "symbolStrokeWidth": 1, "labelFontSize": 17.5, "labelOffset": 4.7, "rowPadding": 18.3, "symbolOpacity": 1}}
          }}
      ]
    }
  ]
}
